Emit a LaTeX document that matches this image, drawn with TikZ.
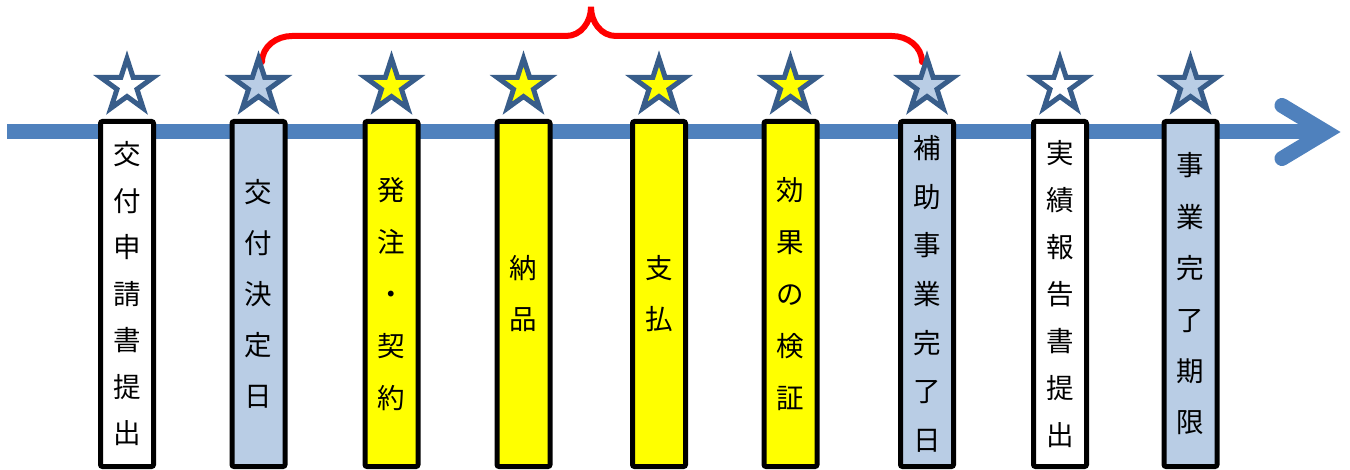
\documentclass[tikz,border=0pt]{standalone}
\usepackage{fontspec}
\newfontfamily\cjk{Noto Sans CJK JP}
\usetikzlibrary{shapes.geometric}
\definecolor{lineblue}{HTML}{4F81BD}
\definecolor{starblue}{HTML}{385D8A}
\definecolor{lightblue}{HTML}{B9CDE5}
\definecolor{yel}{HTML}{FFFF00}
\begin{document}
\begin{tikzpicture}[x=1pt,y=-1pt,
  box/.style={draw=black, line width=5pt, rounded corners=2pt, minimum width=53pt,
    minimum height=345pt, inner sep=0pt, outer sep=0pt, anchor=north, align=center},
  tx/.style={font=\cjk\fontsize{27.5}{#1}\selectfont},
  starsh/.style={star, star points=5, star point ratio=2.618, minimum size=55pt,
    inner sep=0pt, outer sep=0pt, draw=starblue, line width=5pt, line join=miter},
  timeline/.style={draw=lineblue, line width=15pt},
  brace/.style={draw=red, line width=6pt, line cap=round}]
\useasboundingbox (0,0) rectangle (1350,470);
% timeline
\coordinate (L) at (7,132);
\coordinate (T) at (1326,132);
\coordinate (A1) at (1282,105.5);
\coordinate (A2) at (1282,158.5);
\draw[timeline] (L) -- (T);
\draw[timeline, line cap=round, line join=miter] (A1) -- (T) -- (A2);
% brace
\coordinate (B1) at (262,62);
\coordinate (BT) at (591,7);
\coordinate (B2) at (922,62);
\coordinate (H1) at (292,36);
\coordinate (H2) at (566,36);
\coordinate (H3) at (616,36);
\coordinate (H4) at (892,36);
\draw[brace] (B1) to[out=90,in=180] (H1) -- (H2) to[out=0,in=-90] (BT)
  to[out=-90,in=180] (H3) -- (H4) to[out=0,in=90] (B2);
% stars
\node[starsh, fill=white] (s1) at (127,86) {};
\node[starsh, fill=lightblue] (s2) at (258.5,86) {};
\node[starsh, fill=yel] (s3) at (391.5,86) {};
\node[starsh, fill=yel] (s4) at (523.5,86) {};
\node[starsh, fill=yel] (s5) at (659,86) {};
\node[starsh, fill=yel] (s6) at (790.5,86) {};
\node[starsh, fill=lightblue] (s7) at (927,86) {};
\node[starsh, fill=white] (s8) at (1060,86) {};
\node[starsh, fill=lightblue] (s9) at (1190.5,86) {};
% boxes
\node[box, fill=white, tx=46.5] (b1) at (127,121.5) {交\\付\\申\\請\\書\\提\\出};
\node[box, fill=lightblue, tx=51] (b2) at (258.5,121.5) {交\\付\\決\\定\\日};
\node[box, fill=yel, tx=52] (b3) at (391.5,121.5) {発\\注\\・\\契\\約};
\node[box, fill=yel, tx=51] (b4) at (523.5,121.5) {納\\品};
\node[box, fill=yel, tx=51] (b5) at (659,121.5) {支\\払};
\node[box, fill=yel, tx=52] (b6) at (790.5,121.5) {効\\果\\の\\検\\証};
\node[box, fill=lightblue, tx=48.7] (b7) at (927,121.5) {補\\助\\事\\業\\完\\了\\日};
\node[box, fill=white, tx=47] (b8) at (1060,121.5) {実\\績\\報\\告\\書\\提\\出};
\node[box, fill=lightblue, tx=51.4] (b9) at (1190.5,121.5) {事\\業\\完\\了\\期\\限};
\end{tikzpicture}
\end{document}
